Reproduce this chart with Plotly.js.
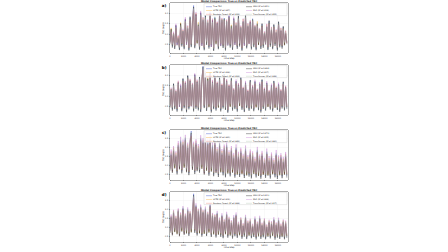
<!DOCTYPE html>
<html>
<head>
<meta charset="utf-8">
<script src="https://cdn.plot.ly/plotly-3.0.1.min.js"></script>
<style>
html,body{margin:0;padding:0;overflow:hidden;width:448px;height:252px;background:#fff}
#wrap{width:448px;height:252px;overflow:hidden;position:relative}
#chart{width:2240px;height:1260px;transform:scale(0.2);transform-origin:0 0;position:absolute;left:0;top:0}
</style>
</head>
<body>
<div id="wrap"><div id="chart"></div></div>
<script>
// ---------------- DATA ----------------
const sampleInterval = 175; // time steps between plotted samples
const timeStep = Array.from({length: 100}, (_, i) => i * sampleInterval);

const modelNames = ['True TRC', 'LSTM', 'Random Forest', 'GRU', 'MLP', 'Transformer'];
const panelTags = ['a)', 'b)', 'c)', 'd)'];
const xTicks = [0, 2000, 4000, 6000, 8000, 10000, 12000, 14000, 16000];

const r2A = [0.947, 0.932, 0.951, 0.918, 0.955];
const r2B = [0.938, 0.926, 0.944, 0.907, 0.949];
const r2C = [0.861, 0.842, 0.873, 0.815, 0.880];
const r2D = [0.902, 0.889, 0.911, 0.868, 0.917];

// ---- Panel a ----
const trueA = [0.62,1.21,0.44,0.98,0.37,1.39,0.55,0.83,0.31,1.47,
0.49,1.12,0.36,1.68,0.58,1.30,0.28,1.79,0.46,1.54,
2.37,0.41,1.92,0.63,1.48,0.33,1.99,0.52,1.70,0.30,
1.86,0.57,1.57,0.39,2.04,0.47,1.62,0.26,1.81,0.60,
1.49,0.35,1.94,0.51,1.66,0.42,1.77,0.29,1.58,0.54,
1.88,0.44,1.36,0.32,1.72,0.57,1.45,0.38,1.84,0.49,
1.29,0.27,1.63,0.53,1.90,0.40,1.41,0.61,1.55,0.34,
1.74,0.46,1.33,0.30,1.52,0.56,1.18,0.37,1.47,0.43,
1.02,0.59,1.38,0.31,1.61,0.48,1.24,0.35,1.43,0.52,
1.11,0.29,1.56,0.45,1.20,0.39,1.34,0.55,1.07,0.62];
const lstmA = [0.68,1.30,0.50,1.07,0.42,1.31,0.60,0.92,0.37,1.55,
0.54,1.20,0.41,1.60,0.63,1.39,0.34,1.71,0.52,1.63,
2.15,0.47,2.01,0.58,1.57,0.39,1.90,0.57,1.79,0.36,
1.78,0.62,1.66,0.45,1.93,0.52,1.71,0.32,1.73,0.55,
1.58,0.41,1.85,0.56,1.75,0.47,1.69,0.35,1.67,0.59,
1.80,0.50,1.45,0.38,1.64,0.62,1.54,0.44,1.76,0.54,
1.38,0.33,1.72,0.58,1.82,0.46,1.50,0.56,1.64,0.40,
1.66,0.51,1.42,0.36,1.61,0.51,1.27,0.43,1.40,0.48,
1.11,0.54,1.47,0.37,1.53,0.53,1.33,0.41,1.36,0.57,
1.20,0.35,1.48,0.50,1.29,0.44,1.27,0.50,1.16,0.58];
const rfA = [0.58,1.13,0.49,0.95,0.43,1.27,0.58,0.88,0.38,1.36,
0.53,1.07,0.42,1.55,0.56,1.24,0.35,1.64,0.49,1.45,
2.08,0.46,1.78,0.60,1.41,0.39,1.84,0.54,1.59,0.37,
1.72,0.57,1.49,0.44,1.86,0.50,1.53,0.33,1.69,0.58,
1.42,0.41,1.79,0.53,1.57,0.46,1.66,0.36,1.49,0.55,
1.74,0.48,1.30,0.38,1.61,0.57,1.38,0.43,1.71,0.51,
1.24,0.34,1.52,0.55,1.76,0.45,1.34,0.58,1.46,0.40,
1.62,0.49,1.27,0.37,1.44,0.56,1.14,0.42,1.39,0.47,
1.00,0.57,1.30,0.38,1.50,0.50,1.19,0.40,1.35,0.53,
1.08,0.36,1.46,0.48,1.15,0.43,1.28,0.54,1.05,0.59];
const gruA = [0.54,1.25,0.36,1.03,0.29,1.44,0.47,0.79,0.24,1.51,
0.41,1.16,0.28,1.73,0.50,1.26,0.22,1.84,0.38,1.50,
2.30,0.33,1.96,0.55,1.44,0.26,2.03,0.44,1.66,0.23,
1.91,0.49,1.53,0.31,2.00,0.39,1.67,0.20,1.77,0.52,
1.54,0.28,1.90,0.43,1.70,0.34,1.73,0.22,1.62,0.46,
1.84,0.36,1.40,0.25,1.76,0.49,1.41,0.30,1.88,0.41,
1.33,0.21,1.59,0.45,1.94,0.32,1.37,0.53,1.59,0.27,
1.70,0.38,1.37,0.23,1.48,0.48,1.22,0.29,1.51,0.35,
1.06,0.51,1.34,0.24,1.65,0.40,1.20,0.28,1.47,0.44,
1.07,0.22,1.60,0.37,1.16,0.31,1.38,0.47,1.03,0.54];
const mlpA = [0.72,1.09,0.53,1.12,0.45,1.50,0.49,0.95,0.40,1.35,
0.58,1.26,0.44,1.81,0.52,1.42,0.37,1.67,0.55,1.66,
2.21,0.50,2.06,0.71,1.39,0.42,2.11,0.45,1.82,0.39,
1.74,0.66,1.70,0.47,2.13,0.40,1.75,0.35,1.69,0.68,
1.61,0.44,2.05,0.45,1.78,0.51,1.65,0.38,1.71,0.47,
1.99,0.53,1.27,0.41,1.84,0.50,1.57,0.47,1.72,0.58,
1.42,0.36,1.75,0.46,1.79,0.49,1.53,0.54,1.67,0.43,
1.62,0.55,1.45,0.39,1.40,0.64,1.30,0.46,1.36,0.52,
1.14,0.52,1.50,0.40,1.49,0.57,1.35,0.44,1.32,0.61,
1.23,0.38,1.44,0.54,1.31,0.48,1.23,0.63,1.17,0.55];
const trfA = [0.65,1.17,0.47,1.01,0.40,1.34,0.57,0.86,0.34,1.42,
0.51,1.15,0.39,1.63,0.60,1.33,0.31,1.74,0.49,1.58,
2.26,0.44,1.87,0.61,1.52,0.36,1.94,0.55,1.74,0.33,
1.82,0.59,1.61,0.42,1.97,0.50,1.58,0.29,1.84,0.57,
1.46,0.38,1.89,0.54,1.70,0.45,1.73,0.32,1.61,0.52,
1.83,0.47,1.40,0.35,1.68,0.59,1.49,0.41,1.79,0.52,
1.33,0.30,1.59,0.55,1.85,0.43,1.45,0.59,1.51,0.37,
1.70,0.48,1.37,0.33,1.49,0.58,1.22,0.40,1.44,0.46,
1.06,0.56,1.35,0.34,1.57,0.51,1.28,0.38,1.40,0.54,
1.14,0.32,1.52,0.47,1.23,0.42,1.31,0.57,1.10,0.60];

// ---- Panel b ----
const trueB = [0.52,1.28,0.39,1.57,0.46,1.19,0.33,1.63,0.55,1.48,
0.36,1.82,0.49,1.61,0.30,1.96,0.44,1.72,0.58,1.53,
0.35,2.00,0.47,1.67,0.40,1.89,0.31,1.76,2.44,0.50,
2.09,0.37,1.81,0.54,2.12,0.29,1.66,0.45,1.95,0.38,
1.59,0.52,1.87,0.34,1.50,0.48,2.03,0.41,1.71,0.27,
1.46,0.56,1.83,0.39,1.28,0.45,1.69,0.33,1.52,0.60,
1.88,0.42,1.35,0.31,1.62,0.50,1.21,0.37,1.74,0.47,
1.43,0.35,1.68,0.53,1.26,0.40,1.57,0.29,1.77,0.46,
1.31,0.38,1.61,0.55,1.19,0.43,1.49,0.34,1.70,0.51,
1.36,0.41,1.54,0.32,1.23,0.48,1.66,0.39,1.40,0.45];
const lstmB = [0.58,1.36,0.45,1.50,0.52,1.27,0.39,1.70,0.60,1.41,
0.42,1.74,0.55,1.69,0.36,1.88,0.50,1.80,0.53,1.61,
0.41,1.92,0.53,1.75,0.46,1.81,0.37,1.84,2.25,0.56,
2.01,0.43,1.89,0.49,2.04,0.35,1.74,0.51,1.87,0.44,
1.67,0.47,1.80,0.40,1.58,0.54,1.95,0.46,1.79,0.33,
1.54,0.51,1.75,0.45,1.36,0.51,1.61,0.39,1.60,0.55,
1.80,0.48,1.43,0.37,1.55,0.56,1.29,0.43,1.67,0.52,
1.51,0.41,1.60,0.48,1.34,0.46,1.50,0.35,1.70,0.51,
1.39,0.44,1.54,0.50,1.27,0.49,1.42,0.40,1.63,0.46,
1.44,0.47,1.47,0.38,1.31,0.53,1.59,0.45,1.48,0.50];
const rfB = [0.50,1.20,0.44,1.45,0.50,1.13,0.40,1.52,0.55,1.40,
0.42,1.70,0.52,1.52,0.37,1.83,0.48,1.62,0.57,1.45,
0.41,1.87,0.50,1.58,0.45,1.77,0.38,1.66,2.18,0.52,
1.95,0.42,1.70,0.55,1.98,0.36,1.57,0.49,1.83,0.43,
1.50,0.53,1.75,0.40,1.43,0.51,1.90,0.45,1.62,0.35,
1.39,0.56,1.72,0.44,1.22,0.49,1.60,0.39,1.45,0.58,
1.76,0.46,1.29,0.38,1.54,0.52,1.16,0.42,1.64,0.49,
1.36,0.40,1.59,0.53,1.21,0.44,1.49,0.36,1.67,0.49,
1.25,0.43,1.53,0.55,1.14,0.46,1.42,0.39,1.61,0.52,
1.30,0.45,1.47,0.38,1.18,0.50,1.57,0.43,1.34,0.48];
const gruB = [0.45,1.33,0.31,1.60,0.38,1.24,0.26,1.66,0.49,1.51,
0.28,1.85,0.42,1.64,0.23,1.99,0.37,1.75,0.52,1.56,
0.27,2.04,0.40,1.70,0.32,1.92,0.24,1.79,2.39,0.43,
2.13,0.29,1.84,0.47,2.15,0.22,1.69,0.38,1.98,0.31,
1.63,0.45,1.90,0.27,1.53,0.41,2.06,0.34,1.74,0.21,
1.50,0.49,1.86,0.31,1.32,0.38,1.72,0.26,1.55,0.53,
1.91,0.35,1.39,0.24,1.65,0.43,1.25,0.30,1.77,0.40,
1.46,0.28,1.71,0.46,1.30,0.33,1.60,0.22,1.80,0.39,
1.34,0.31,1.64,0.48,1.23,0.36,1.52,0.27,1.73,0.44,
1.39,0.34,1.57,0.25,1.27,0.41,1.69,0.32,1.43,0.38];
const mlpB = [0.61,1.41,0.48,1.48,0.55,1.32,0.42,1.74,0.50,1.59,
0.45,1.70,0.58,1.73,0.39,1.84,0.53,1.83,0.51,1.64,
0.44,2.09,0.56,1.80,0.49,1.79,0.40,1.88,2.30,0.59,
2.20,0.46,1.72,0.61,2.01,0.38,1.78,0.54,2.06,0.47,
1.70,0.59,1.76,0.43,1.61,0.55,1.92,0.50,1.82,0.36,
1.57,0.63,1.72,0.48,1.39,0.54,1.80,0.42,1.63,0.67,
1.77,0.51,1.46,0.40,1.73,0.57,1.32,0.46,1.66,0.56,
1.54,0.44,1.79,0.60,1.37,0.49,1.68,0.38,1.69,0.55,
1.42,0.47,1.72,0.62,1.30,0.52,1.60,0.43,1.63,0.60,
1.47,0.50,1.65,0.41,1.34,0.57,1.58,0.48,1.51,0.54];
const trfB = [0.55,1.31,0.42,1.53,0.49,1.22,0.36,1.60,0.57,1.46,
0.39,1.78,0.52,1.59,0.33,1.91,0.47,1.70,0.56,1.55,
0.38,1.96,0.50,1.65,0.43,1.86,0.34,1.73,2.36,0.52,
2.05,0.40,1.78,0.55,2.07,0.32,1.64,0.48,1.91,0.41,
1.57,0.53,1.84,0.37,1.48,0.50,1.98,0.43,1.69,0.30,
1.44,0.57,1.80,0.42,1.27,0.47,1.66,0.36,1.50,0.60,
1.84,0.44,1.33,0.34,1.60,0.52,1.20,0.40,1.71,0.49,
1.41,0.37,1.66,0.54,1.25,0.42,1.55,0.32,1.74,0.48,
1.29,0.40,1.59,0.56,1.18,0.45,1.47,0.37,1.67,0.52,
1.34,0.43,1.52,0.35,1.22,0.50,1.63,0.41,1.38,0.47];

// ---- Panel c ----
const trueC = [0.84,1.66,0.71,1.88,0.95,1.59,0.62,2.14,0.90,2.38,
0.68,2.21,0.99,2.52,0.74,2.06,0.58,2.29,2.92,0.87,
2.11,0.64,2.25,0.80,1.98,0.72,2.49,0.93,2.33,0.61,
2.57,0.82,2.28,0.55,2.44,0.77,2.10,0.52,2.24,0.69,
1.81,0.48,2.19,0.73,1.70,0.57,1.96,0.46,2.12,0.66,
1.63,0.51,1.88,0.71,1.49,0.44,1.97,0.60,1.55,0.48,
1.79,0.63,1.44,0.42,1.91,0.56,1.37,0.50,1.69,0.40,
1.58,0.64,1.26,0.45,1.83,0.53,1.40,0.38,1.61,0.59,
1.22,0.43,1.74,0.55,1.31,0.39,1.52,0.62,1.19,0.46,
1.66,0.37,1.35,0.57,1.48,0.41,1.27,0.60,1.55,0.44];
const lstmC = [0.91,1.55,0.78,2.00,0.87,1.72,0.70,2.02,0.98,2.25,
0.76,2.33,0.91,2.39,0.82,2.18,0.66,2.17,2.63,0.95,
2.24,0.72,2.13,0.88,2.10,0.80,2.36,0.85,2.21,0.69,
2.44,0.75,2.16,0.63,2.31,0.70,1.98,0.60,2.12,0.77,
1.93,0.56,2.07,0.66,1.82,0.65,1.84,0.54,2.00,0.60,
1.75,0.59,1.76,0.64,1.61,0.52,1.85,0.53,1.67,0.56,
1.67,0.56,1.56,0.50,1.79,0.49,1.49,0.58,1.57,0.48,
1.70,0.57,1.38,0.53,1.71,0.46,1.52,0.46,1.49,0.52,
1.34,0.51,1.62,0.48,1.43,0.47,1.40,0.55,1.31,0.54,
1.54,0.45,1.47,0.50,1.36,0.49,1.39,0.53,1.43,0.52];
const rfC = [0.78,1.79,0.66,1.74,1.01,1.48,0.67,2.25,0.83,2.20,
0.73,2.09,1.04,2.34,0.69,1.95,0.63,2.41,2.66,0.82,
1.99,0.69,2.38,0.75,1.86,0.77,2.31,0.98,2.45,0.56,
2.40,0.87,2.15,0.60,2.29,0.82,1.97,0.57,2.35,0.64,
1.69,0.53,2.05,0.78,1.59,0.62,2.08,0.51,1.99,0.71,
1.52,0.56,1.98,0.66,1.37,0.49,1.85,0.65,1.44,0.53,
1.91,0.58,1.33,0.47,1.79,0.61,1.26,0.55,1.80,0.45,
1.47,0.69,1.15,0.50,1.71,0.58,1.29,0.43,1.72,0.54,
1.11,0.48,1.62,0.60,1.20,0.44,1.63,0.57,1.08,0.51,
1.55,0.42,1.24,0.62,1.59,0.46,1.16,0.55,1.66,0.49];
const gruC = [0.72,1.58,0.60,1.80,0.84,1.51,0.51,2.06,0.79,2.30,
0.57,2.13,0.88,2.44,0.63,1.98,0.47,2.21,2.81,0.76,
2.03,0.53,2.17,0.69,1.90,0.61,2.41,0.82,2.25,0.50,
2.49,0.71,2.20,0.44,2.36,0.66,2.02,0.41,2.16,0.58,
1.73,0.37,2.11,0.62,1.62,0.46,1.88,0.35,2.04,0.55,
1.55,0.40,1.80,0.60,1.41,0.33,1.89,0.49,1.47,0.37,
1.71,0.52,1.36,0.31,1.83,0.45,1.29,0.39,1.61,0.29,
1.50,0.53,1.18,0.34,1.75,0.42,1.32,0.27,1.53,0.48,
1.14,0.32,1.66,0.44,1.23,0.28,1.44,0.51,1.11,0.35,
1.58,0.26,1.27,0.46,1.40,0.30,1.19,0.49,1.47,0.33];
const mlpC = [0.97,1.90,0.83,2.09,1.08,1.80,0.76,2.37,1.02,2.60,
0.81,2.45,1.11,2.71,0.86,2.28,0.72,2.50,2.74,0.99,
2.33,0.77,2.47,0.93,2.20,0.85,2.69,1.05,2.54,0.75,
2.76,0.95,2.50,0.69,2.64,0.90,2.31,0.66,2.45,0.82,
2.03,0.62,2.40,0.86,1.92,0.71,2.17,0.60,2.33,0.79,
1.85,0.65,2.09,0.84,1.71,0.58,2.18,0.73,1.77,0.62,
2.00,0.76,1.66,0.56,2.12,0.69,1.59,0.64,1.90,0.54,
1.79,0.77,1.48,0.59,2.04,0.67,1.62,0.52,1.82,0.72,
1.44,0.57,1.95,0.68,1.53,0.53,1.73,0.75,1.41,0.60,
1.87,0.51,1.57,0.70,1.69,0.55,1.49,0.73,1.76,0.58];
const trfC = [0.88,1.72,0.75,1.93,0.99,1.65,0.66,2.19,0.94,2.44,
0.72,2.28,1.03,2.58,0.78,2.12,0.62,2.35,2.86,0.91,
2.17,0.68,2.31,0.84,2.04,0.76,2.55,0.97,2.39,0.65,
2.62,0.86,2.34,0.59,2.50,0.81,2.16,0.56,2.30,0.73,
1.87,0.52,2.25,0.77,1.76,0.61,2.02,0.50,2.18,0.70,
1.69,0.55,1.94,0.75,1.55,0.48,2.03,0.64,1.61,0.52,
1.85,0.67,1.50,0.46,1.97,0.60,1.43,0.54,1.75,0.44,
1.64,0.68,1.32,0.49,1.89,0.57,1.46,0.42,1.67,0.63,
1.28,0.47,1.80,0.59,1.37,0.43,1.58,0.66,1.25,0.50,
1.72,0.41,1.41,0.61,1.54,0.45,1.33,0.64,1.61,0.48];

// ---- Panel d ----
const trueD = [0.79,1.60,0.66,1.87,0.84,1.53,0.72,1.95,0.61,1.72,
0.87,2.08,0.69,1.66,0.76,1.99,0.63,1.81,0.82,1.70,
2.88,0.80,2.22,0.65,1.93,0.77,2.15,0.59,1.87,0.74,
2.04,0.62,1.76,0.81,2.25,0.57,1.69,0.71,1.62,0.54,
1.80,0.69,1.43,0.58,1.67,0.50,1.35,0.72,1.75,0.53,
1.48,0.64,1.29,0.48,1.56,0.61,1.71,0.52,1.20,0.66,
1.45,0.47,1.13,0.59,1.58,0.45,1.27,0.63,1.37,0.50,
1.09,0.57,1.49,0.43,1.22,0.60,1.53,0.46,1.15,0.55,
1.39,0.44,1.06,0.58,1.31,0.49,1.24,0.62,1.45,0.42,
1.17,0.53,1.42,0.46,1.10,0.56,1.33,0.44,1.26,0.51];
const lstmD = [0.86,1.52,0.73,1.94,0.78,1.62,0.67,1.87,0.68,1.80,
0.81,1.99,0.75,1.74,0.71,1.90,0.69,1.89,0.76,1.78,
2.62,0.85,2.13,0.71,2.01,0.70,2.06,0.65,1.95,0.68,
1.96,0.67,1.84,0.75,2.15,0.63,1.77,0.66,1.70,0.60,
1.72,0.64,1.51,0.62,1.60,0.56,1.43,0.67,1.68,0.58,
1.55,0.60,1.37,0.53,1.50,0.65,1.63,0.57,1.28,0.61,
1.52,0.52,1.21,0.63,1.50,0.51,1.35,0.59,1.44,0.55,
1.17,0.61,1.42,0.49,1.30,0.56,1.46,0.51,1.23,0.59,
1.46,0.50,1.14,0.54,1.38,0.53,1.31,0.58,1.38,0.48,
1.25,0.57,1.35,0.51,1.18,0.54,1.40,0.49,1.33,0.55];
const rfD = [0.74,1.66,0.62,1.79,0.88,1.47,0.76,2.01,0.57,1.66,
0.91,2.00,0.65,1.60,0.80,1.92,0.67,1.73,0.86,1.63,
2.60,0.84,2.14,0.69,1.84,0.81,2.07,0.63,1.79,0.78,
1.96,0.66,1.68,0.84,2.13,0.61,1.61,0.75,1.55,0.58,
1.73,0.72,1.38,0.62,1.60,0.54,1.30,0.75,1.67,0.57,
1.41,0.68,1.24,0.52,1.50,0.64,1.63,0.56,1.16,0.69,
1.39,0.51,1.09,0.62,1.52,0.49,1.22,0.66,1.31,0.54,
1.05,0.60,1.43,0.47,1.18,0.63,1.46,0.50,1.11,0.58,
1.33,0.48,1.03,0.61,1.26,0.52,1.19,0.65,1.38,0.46,
1.12,0.56,1.36,0.50,1.06,0.59,1.28,0.48,1.21,0.54];
const gruD = [0.70,1.56,0.57,1.82,0.75,1.49,0.63,1.90,0.52,1.68,
0.78,2.03,0.60,1.62,0.67,1.94,0.54,1.77,0.73,1.66,
2.80,0.71,2.17,0.56,1.89,0.68,2.10,0.50,1.83,0.65,
1.99,0.53,1.72,0.72,2.20,0.48,1.65,0.62,1.58,0.45,
1.76,0.60,1.39,0.49,1.63,0.41,1.31,0.63,1.71,0.44,
1.44,0.55,1.25,0.39,1.52,0.52,1.67,0.43,1.16,0.57,
1.41,0.38,1.09,0.50,1.54,0.36,1.23,0.54,1.33,0.41,
1.05,0.48,1.45,0.34,1.18,0.51,1.49,0.37,1.11,0.46,
1.35,0.35,1.02,0.49,1.27,0.40,1.20,0.53,1.41,0.33,
1.13,0.44,1.38,0.37,1.06,0.47,1.29,0.35,1.22,0.42];
const mlpD = [0.91,1.73,0.78,1.99,0.96,1.66,0.84,2.07,0.73,1.85,
0.99,2.20,0.81,1.79,0.88,2.12,0.75,1.94,0.94,1.83,
2.70,0.92,2.35,0.77,2.06,0.89,2.28,0.71,2.00,0.86,
2.17,0.74,1.89,0.93,2.37,0.69,1.82,0.83,1.75,0.66,
1.93,0.81,1.56,0.70,1.80,0.62,1.48,0.84,1.88,0.65,
1.61,0.76,1.42,0.60,1.69,0.73,1.84,0.64,1.33,0.78,
1.58,0.59,1.26,0.71,1.71,0.57,1.40,0.75,1.50,0.62,
1.22,0.69,1.62,0.55,1.35,0.72,1.66,0.58,1.28,0.67,
1.52,0.56,1.19,0.70,1.44,0.61,1.37,0.74,1.58,0.54,
1.30,0.65,1.55,0.58,1.23,0.68,1.46,0.56,1.39,0.63];
const trfD = [0.81,1.64,0.69,1.91,0.87,1.57,0.75,1.99,0.64,1.76,
0.90,2.12,0.72,1.70,0.79,2.03,0.66,1.85,0.85,1.74,
2.76,0.83,2.26,0.68,1.97,0.80,2.19,0.62,1.91,0.77,
2.08,0.65,1.80,0.84,2.29,0.60,1.73,0.74,1.66,0.57,
1.84,0.72,1.47,0.61,1.71,0.53,1.39,0.75,1.79,0.56,
1.52,0.67,1.33,0.51,1.60,0.64,1.75,0.55,1.24,0.69,
1.49,0.50,1.17,0.62,1.62,0.48,1.31,0.66,1.41,0.53,
1.13,0.60,1.53,0.46,1.26,0.63,1.57,0.49,1.19,0.58,
1.43,0.47,1.10,0.61,1.35,0.52,1.28,0.65,1.49,0.45,
1.21,0.56,1.46,0.49,1.14,0.59,1.37,0.47,1.30,0.54];

// ---------------- STYLE / LAYOUT ----------------
const S = 5;                 // render scale (page is scaled down by 1/S)
const W = 448, H = 252;
const FONT = 'DejaVu Sans';
const colors = ['#4a5fd0', '#f2a72b', '#e0533d', '#1e1e1e', '#c27ad3', '#a6bfa2'];
const opac = [0.85, 0.7, 0.5, 0.75, 0.7, 0.6];
const panelBox = [ {top:3, bottom:53}, {top:65, bottom:115}, {top:130, bottom:180}, {top:192, bottom:242} ];
const yRanges = [[0.1, 2.49], [0.1, 2.49], [0.2, 2.98], [0.2, 2.98]];
const plotLeft = 170, plotRight = 288;

const seriesByPanel = [
  [trueA, lstmA, rfA, gruA, mlpA, trfA],
  [trueB, lstmB, rfB, gruB, mlpB, trfB],
  [trueC, lstmC, rfC, gruC, mlpC, trfC],
  [trueD, lstmD, rfD, gruD, mlpD, trfD]
];
const r2ByPanel = [r2A, r2B, r2C, r2D];

const px = v => v / W;
const py = v => 1 - v / H;
const legId = n => n === 1 ? 'legend' : 'legend' + n;

const traces = [];
const layout = {
  width: W * S, height: H * S,
  margin: {l: 0, r: 0, t: 0, b: 0},
  paper_bgcolor: '#ffffff', plot_bgcolor: '#ffffff',
  font: {family: FONT, color: '#222', size: 10},
  showlegend: true,
  annotations: [], shapes: []
};

seriesByPanel.forEach((series, k) => {
  const suf = k === 0 ? '' : String(k + 1);
  const box = panelBox[k];
  series.forEach((ys, m) => {
    const name = m === 0 ? modelNames[0] : `${modelNames[m]} (R²=${r2ByPanel[k][m - 1].toFixed(3)})`;
    traces.push({
      type: 'scatter', mode: 'lines',
      x: timeStep, y: ys, name: name,
      xaxis: 'x' + suf, yaxis: 'y' + suf,
      line: {color: colors[m], width: 2.6},
      opacity: opac[m],
      legend: legId(k * 2 + (m < 3 ? 1 : 2)),
      hoverinfo: 'skip'
    });
  });

  const axCommon = {
    showline: true, mirror: true, linecolor: '#333', linewidth: 2,
    ticks: 'outside', ticklen: 5, tickwidth: 2, tickcolor: '#333',
    showgrid: true, gridcolor: '#ececec', gridwidth: 1.5,
    zeroline: false, automargin: false,
    tickfont: {size: 10, family: FONT, color: '#222'}
  };
  layout['xaxis' + suf] = Object.assign({}, axCommon, {
    domain: [px(plotLeft), px(plotRight)], anchor: 'y' + suf,
    range: [0, 17500], tickmode: 'array', tickvals: xTicks, ticktext: xTicks.map(String),
    title: {text: 'Time Step', font: {size: 11, family: FONT, color: '#222'}, standoff: 2}
  });
  layout['yaxis' + suf] = Object.assign({}, axCommon, {
    domain: [py(box.bottom), py(box.top)], anchor: 'x' + suf,
    range: yRanges[k], dtick: 0.5, tick0: 0, tickformat: '.1f',
    title: {text: 'TRC (mg/L)', font: {size: 11, family: FONT, color: '#222'}, standoff: 4}
  });

  layout.annotations.push({
    xref: 'paper', yref: 'paper', x: px((plotLeft + plotRight) / 2), y: py(box.top),
    xanchor: 'center', yanchor: 'bottom', showarrow: false, borderpad: 0,
    text: '<b>Model Comparison: True vs Predicted TRC</b>',
    font: {size: 12, family: FONT, color: '#111'}
  });
  layout.annotations.push({
    xref: 'paper', yref: 'paper', x: px(164), y: py(box.top + 3),
    xanchor: 'center', yanchor: 'middle', showarrow: false,
    text: '<b>' + panelTags[k] + '</b>',
    font: {size: 20, family: FONT, color: '#000'}
  });
  layout.shapes.push({
    type: 'rect', xref: 'paper', yref: 'paper', layer: 'above',
    x0: px(204), x1: px(287), y0: py(box.top + 12.6), y1: py(box.top + 0.6),
    fillcolor: 'rgba(255,255,255,0.85)', line: {color: '#cccccc', width: 2}
  });
  const legCommon = {
    xanchor: 'left', yanchor: 'top', bgcolor: 'rgba(0,0,0,0)', borderwidth: 0,
    font: {size: 10, family: FONT, color: '#222'}, itemwidth: 30,
    tracegroupgap: 0, traceorder: 'normal', orientation: 'v'
  };
  layout[legId(k * 2 + 1)] = Object.assign({}, legCommon, {x: px(205), y: py(box.top + 0.8)});
  layout[legId(k * 2 + 2)] = Object.assign({}, legCommon, {x: px(245), y: py(box.top + 0.8)});
});

Plotly.newPlot('chart', traces, layout, {staticPlot: true, displayModeBar: false});
</script>
</body>
</html>
